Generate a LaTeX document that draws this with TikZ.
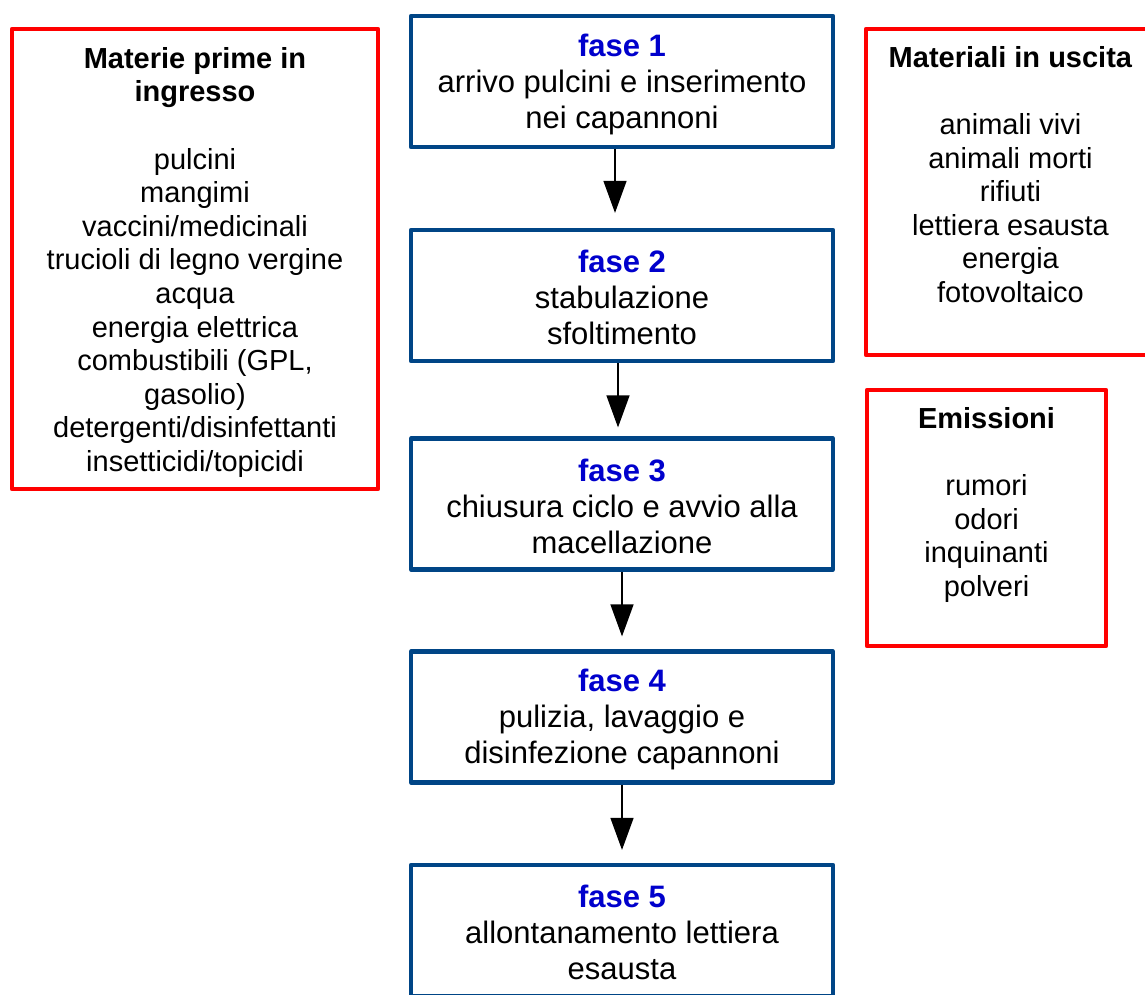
\documentclass[tikz,border=0pt]{standalone}
\usepackage{fontspec}
\setmainfont{Liberation Sans}
\usetikzlibrary{arrows.meta}
\definecolor{boxblue}{HTML}{004586}
\definecolor{faseblue}{HTML}{0000CC}
\definecolor{boxred}{HTML}{FF0000}
\newcommand\cstrut{\rule[-2pt]{0pt}{30pt}}
\newcommand\sstrut{\rule{0pt}{24pt}}
\newcommand\fasetitle[1]{{\color{faseblue}\bfseries\cstrut fase #1}}
\begin{document}
\begin{tikzpicture}[x=1pt,y=-1pt,
  phase/.style={draw=boxblue, line width=4.2pt, line join=round, minimum width=422pt, minimum height=131pt, inner sep=0pt, align=center, font=\fontsize{31}{36}\selectfont},
  sidebox/.style={draw=boxred, line width=4.2pt, line join=round, inner sep=0pt},
  sidetext/.style={anchor=north, inner sep=0pt, align=center, font=\fontsize{29}{33.6}\selectfont},
  flow/.style={line width=1.3pt, -{Triangle[width=23pt,length=32pt]}}
]
\useasboundingbox (0,0) rectangle (1145,994);

\node[phase] (f1) at (622,81.5) {\fasetitle{1}\\arrivo pulcini e inserimento\\nei capannoni\cstrut};
\node[phase] (f2) at (622,295.5) {\fasetitle{2}\\stabulazione\\sfoltimento\cstrut};
\node[phase] (f3) at (622,504) {\fasetitle{3}\\chiusura ciclo e avvio alla\\macellazione\cstrut};
\node[phase] (f4) at (622,717) {\fasetitle{4}\\pulizia, lavaggio e\\disinfezione capannoni\cstrut};
\node[phase] (f5) at (622,930.5) {\fasetitle{5}\\allontanamento lettiera\\esausta\cstrut};

\node[sidebox, minimum width=366pt, minimum height=460pt] (inbox) at (195,259) {};
\node[sidetext] (intext) at (195,44) {\sstrut\textbf{Materie prime in}\\\textbf{ingresso}\\\mbox{}\\pulcini\\mangimi\\vaccini/medicinali\\trucioli di legno vergine\\acqua\\energia elettrica\\combustibili (GPL,\\gasolio)\\detergenti/disinfettanti\\insetticidi/topicidi};

\node[sidebox, minimum width=289pt, minimum height=326pt] (outbox) at (1010.5,192) {};
\node[sidetext] (outtext) at (1010.5,43) {\sstrut\textbf{Materiali in uscita}\\\mbox{}\\animali vivi\\animali morti\\rifiuti\\lettiera esausta\\energia\\fotovoltaico};

\node[sidebox, minimum width=239pt, minimum height=256pt] (embox) at (986.5,518) {};
\node[sidetext] (emtext) at (986.5,404) {\sstrut\textbf{Emissioni}\\\mbox{}\\rumori\\odori\\inquinanti\\polveri};

\draw[flow, shorten >=15pt] ([xshift=-7pt]f1.south) -- ([xshift=-7pt]f2.north);
\draw[flow, shorten >=9pt] ([xshift=-4pt]f2.south) -- ([xshift=-4pt]f3.north);
\draw[flow, shorten >=13pt] (f3.south) -- (f4.north);
\draw[flow, shorten >=13pt] (f4.south) -- (f5.north);
\end{tikzpicture}
\end{document}
